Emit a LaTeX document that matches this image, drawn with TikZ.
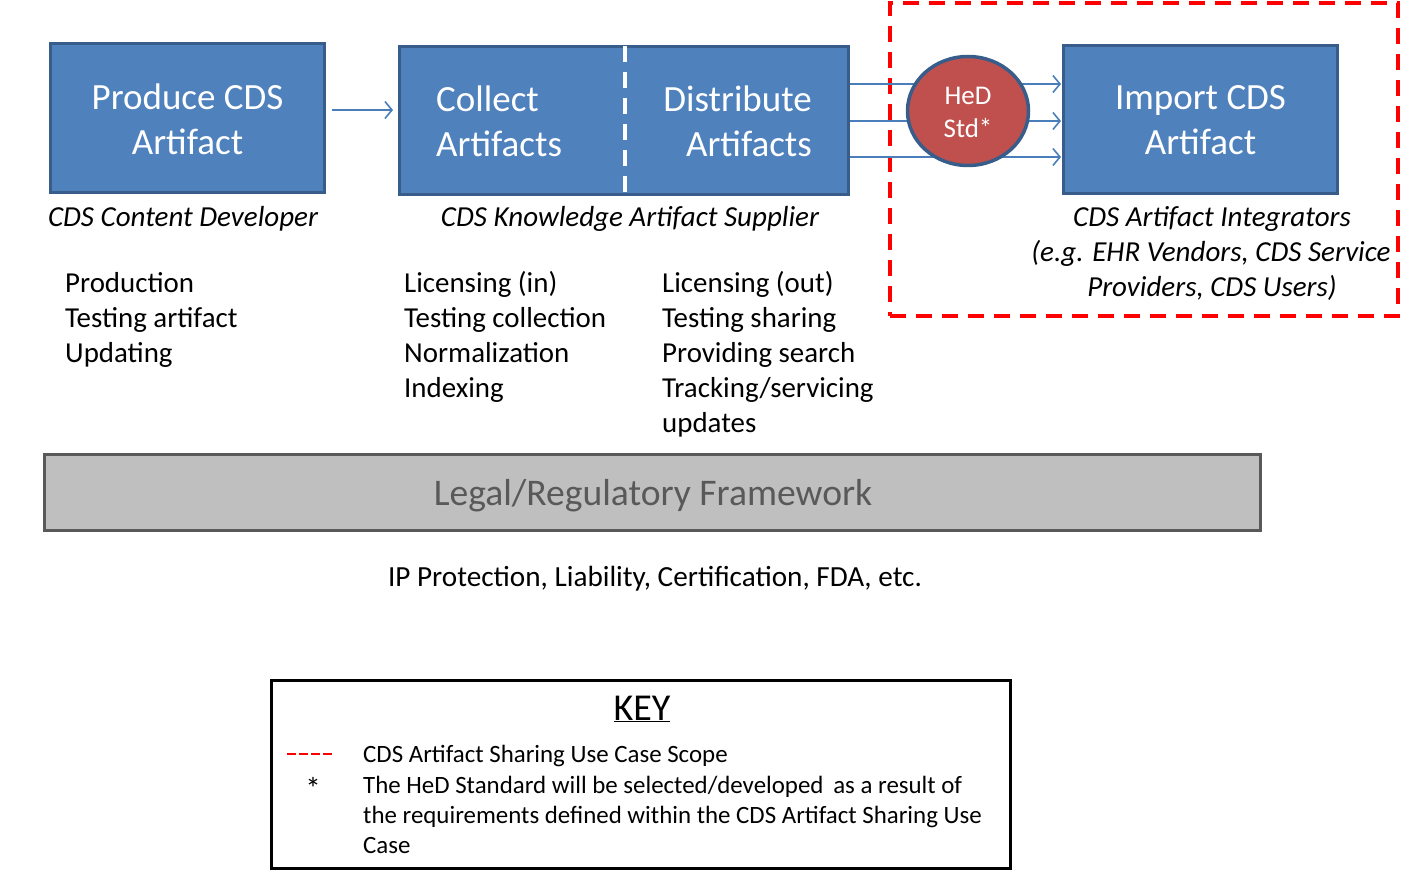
\documentclass[tikz,border=0pt]{standalone}
\usepackage{fontspec}
\setmainfont{Carlito}
\usetikzlibrary{arrows.meta,shapes.geometric}
\definecolor{boxblue}{HTML}{4F81BD}
\definecolor{boxborder}{HTML}{385D8A}
\definecolor{arrowblue}{HTML}{4A7EBB}
\definecolor{hedred}{HTML}{C0504D}
\definecolor{scopered}{HTML}{FF0000}
\definecolor{framegray}{HTML}{BFBFBF}
\definecolor{frameborder}{HTML}{595959}
\newcommand{\keystar}{\scalebox{1.25}{*}}
\tikzset{
  bluebox/.style={draw=boxborder, fill=boxblue, line width=3pt, inner sep=0pt},
  titletext/.style={text=white, font=\fontsize{37}{45}\selectfont, inner sep=0pt},
  rolelabel/.style={font=\fontsize{29}{35}\selectfont\itshape, inner sep=0pt, anchor=base},
  listline/.style={font=\fontsize{28.9}{35}\selectfont, inner sep=0pt, anchor=base west},
  keyline/.style={font=\fontsize{24.9}{30}\selectfont, inner sep=0pt, anchor=base west},
  flow/.style={draw=arrowblue, line width=1.6pt, -{Straight Barb[length=7pt,width=17pt,line width=1.6pt]}},
  scopebox/.style={draw=scopered, line width=4pt, dash pattern=on 16pt off 10pt, inner sep=0pt},
}
\begin{document}
\begin{tikzpicture}[x=1pt,y=-1pt]
\useasboundingbox (0,0) rectangle (1417,874);

% scope rectangle
\node[scopebox, minimum width=508pt, minimum height=313pt] (scope) at (1144,159.5) {};

% Produce box
\node[bluebox, minimum width=274pt, minimum height=149pt] (prod) at (187.5,118) {};
\node[titletext, align=center] (prodtext) at (187.5,119) {Produce CDS\\Artifact};

% Collect / Distribute box
\node[bluebox, minimum width=449pt, minimum height=148pt] (supply) at (624,120.5) {};
\coordinate (divtop) at (625,46.5);
\coordinate (divbot) at (625,194.5);
\draw[white, line width=3.5pt, dash pattern=on 16pt off 10pt] (divtop) -- (divbot);
\node[titletext, align=left, anchor=west] (collect) at (436,121.5) {Collect\\Artifacts};
\node[titletext, align=right, anchor=east] (distribute) at (812,121.5) {Distribute\\Artifacts};

% Import box
\node[bluebox, minimum width=274pt, minimum height=148pt] (import) at (1200.5,119.5) {};
\node[titletext, align=center] (importtext) at (1200.5,120.5) {Import CDS\\Artifact};

% arrows
\draw[flow, shorten <=6pt, shorten >=5pt] ([yshift=8pt]prod.east) -- ([yshift=8pt]prod.east -| supply.west);
\draw[flow, shorten >=1pt] ([yshift=36.5pt]supply.east) -- ([yshift=36.5pt]supply.east -| import.west);
\draw[flow, shorten >=1pt] ([yshift=-0.5pt]supply.east) -- ([yshift=-0.5pt]supply.east -| import.west);
\draw[flow, shorten >=1pt] ([yshift=-36.5pt]supply.east) -- ([yshift=-36.5pt]supply.east -| import.west);

% HeD circle
\node[ellipse, draw=boxborder, fill=hedred, line width=3.5pt, minimum width=121pt, minimum height=109pt, inner sep=0pt] (hed) at (968,111) {};
\node[text=white, font=\fontsize{27}{33}\selectfont, align=center, inner sep=0pt] (hedtext) at (968,112) {HeD\\Std*};

% role labels
\node[rolelabel] (dev) at (183,227) {CDS Content Developer};
\node[rolelabel] (sup) at (630,227) {CDS Knowledge Artifact Supplier};
\node[rolelabel] (int1) at (1212,227) {CDS Artifact Integrators};
\node[rolelabel] (int2) at (1211,262) {(e.g. EHR Vendors, CDS Service};
\node[rolelabel] (int3) at (1212,297) {Providers, CDS Users)};

% lists
\node[listline] (pa) at (65,292.5) {Production};
\node[listline] (pb) at (65,327.5) {Testing artifact};
\node[listline] (pc) at (65,362.5) {Updating};

\node[listline] (ca) at (404,292.5) {Licensing (in)};
\node[listline] (cb) at (404,327.5) {Testing collection};
\node[listline] (cc) at (404,362.5) {Normalization};
\node[listline] (cd) at (404,397.5) {Indexing};

\node[listline] (da) at (662,292.5) {Licensing (out)};
\node[listline] (db) at (662,327.5) {Testing sharing};
\node[listline] (dc) at (662,362.5) {Providing search};
\node[listline] (dd) at (662,397.5) {Tracking/servicing};
\node[listline] (de) at (662,432.5) {updates};

% legal framework
\node[draw=frameborder, fill=framegray, line width=3pt, minimum width=1216pt, minimum height=76pt, inner sep=0pt] (legal) at (652.5,492.5) {};
\node[text=frameborder, font=\fontsize{37.6}{42}\selectfont, inner sep=0pt, anchor=base] (legaltext) at (653,505.5) {Legal/Regulatory Framework};
\node[font=\fontsize{29.2}{34}\selectfont, inner sep=0pt, anchor=base] (ip) at (655,586.5) {IP Protection, Liability, Certification, FDA, etc.};

% key
\node[draw=black, line width=3pt, minimum width=739pt, minimum height=188pt, inner sep=0pt] (key) at (641,774.5) {};
\node[font=\fontsize{38}{42}\selectfont, inner sep=0pt, anchor=base] (keytitle) at (642,720) {\underline{KEY}};
\coordinate (dasha) at (287,754);
\coordinate (dashb) at (333,754);
\draw[scopered, line width=2.8pt, dash pattern=on 8.5pt off 3.5pt] (dasha) -- (dashb);
\node[keyline] (k1) at (363,762) {CDS Artifact Sharing Use Case Scope};
\node[font=\fontsize{24.9}{30}\selectfont, inner sep=0pt] (star) at (313,788) {\keystar};
\node[keyline] (k2) at (363,793) {The HeD Standard will be selected/developed\, as a result of};
\node[keyline] (k3) at (363,823) {the requirements defined within the CDS Artifact Sharing Use};
\node[keyline] (k4) at (363,853) {Case};
\end{tikzpicture}
\end{document}
